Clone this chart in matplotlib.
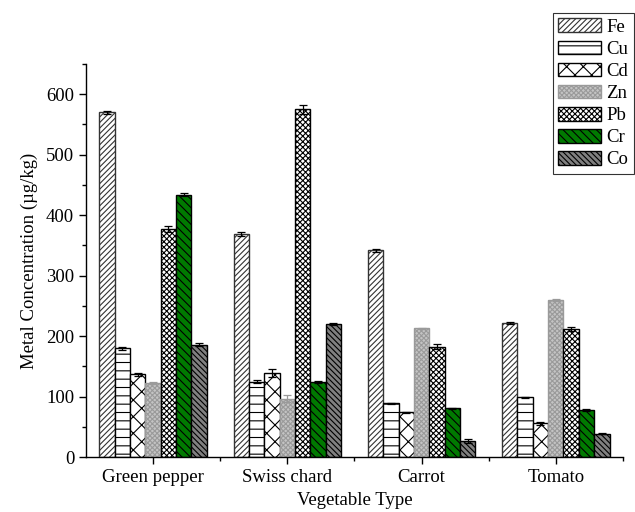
import numpy as np
import matplotlib
matplotlib.use("Agg")
import matplotlib.pyplot as plt
from matplotlib.ticker import MultipleLocator, FixedLocator

plt.rcParams["font.family"] = ["Liberation Serif", "DejaVu Serif"]
plt.rcParams["hatch.linewidth"] = 0.8

vegetables = ["Green pepper", "Swiss chard", "Carrot", "Tomato"]
metals = ["Fe", "Cu", "Cd", "Zn", "Pb", "Cr", "Co"]

# mean concentration (ug/kg), one list per metal, in vegetable order
fe = [570, 369, 342, 222]
cu = [180, 125, 89, 99]
cd = [137, 139, 74, 56]
zn = [123, 97, 213, 260]
pb = [377, 575, 183, 212]
cr = [434, 124, 81, 78]
co = [186, 220, 27, 39]

fe_err = [3, 4, 2, 2]
cu_err = [2, 3, 1, 1]
cd_err = [2, 7, 1, 3]
zn_err = [2, 6, 1, 1]
pb_err = [5, 7, 4, 4]
cr_err = [2, 2, 1, 1]
co_err = [2, 2, 3, 1]

values = [fe, cu, cd, zn, pb, cr, co]
errors = [fe_err, cu_err, cd_err, zn_err, pb_err, cr_err, co_err]

styles = [
    dict(facecolor="white", edgecolor="#333333", hatch="/" * 6),
    dict(facecolor="white", edgecolor="black", hatch="--"),
    dict(facecolor="white", edgecolor="black", hatch="xx"),
    dict(facecolor="#c4c4c4", edgecolor="#9a9a9a", hatch="x" * 7),
    dict(facecolor="white", edgecolor="black", hatch="x" * 6),
    dict(facecolor="#007a00", edgecolor="black", hatch="\\" * 4),
    dict(facecolor="#808080", edgecolor="black", hatch="\\" * 6),
]
err_colors = ["black", "black", "black", "#9a9a9a", "black", "black", "black"]

fig = plt.figure(figsize=(6.35, 5.12), dpi=100)
ax = fig.add_axes([0.1354, 0.107, 0.8456, 0.768])

x = np.arange(len(vegetables))
n = len(metals)
w = 0.8 / n
for i, (m, v, e, st) in enumerate(zip(metals, values, errors, styles)):
    pos = x - 0.4 + w * (i + 0.5)
    ax.bar(pos, v, width=w, label=m, linewidth=1.0, **st)
    ax.errorbar(pos, v, yerr=e, fmt="none", ecolor=err_colors[i],
                elinewidth=0.9, capsize=3, capthick=0.9)

ax.set_xlim(-0.5, 3.5)
ax.set_ylim(0, 650)
ax.set_xticks(x)
ax.set_xticklabels(vegetables)
ax.xaxis.set_minor_locator(FixedLocator([0.5, 1.5, 2.5, 3.5]))
ax.yaxis.set_major_locator(MultipleLocator(100))
ax.yaxis.set_minor_locator(MultipleLocator(50))
ax.tick_params(axis="both", which="major", direction="out", length=5,
               width=1.0, labelsize=13.5)
ax.tick_params(axis="both", which="minor", direction="out", length=3,
               width=1.0)
for s in ("top", "right"):
    ax.spines[s].set_visible(False)
for s in ("left", "bottom"):
    ax.spines[s].set_linewidth(1.0)

ax.set_xlabel("Vegetable Type", fontsize=13.5, labelpad=4)
ax.set_ylabel("Metal Concentration (\u00b5g/kg)", fontsize=13.5, labelpad=6)

leg = fig.legend(loc="upper right", bbox_to_anchor=(0.998, 0.975),
                 fontsize=13.5, frameon=True, fancybox=False,
                 handlelength=2.25, handleheight=0.75, labelspacing=0.25,
                 handletextpad=0.3, borderpad=0.3, borderaxespad=0.0)
leg.get_frame().set_edgecolor("black")
leg.get_frame().set_linewidth(0.8)

fig.savefig("out.png", dpi=100)
